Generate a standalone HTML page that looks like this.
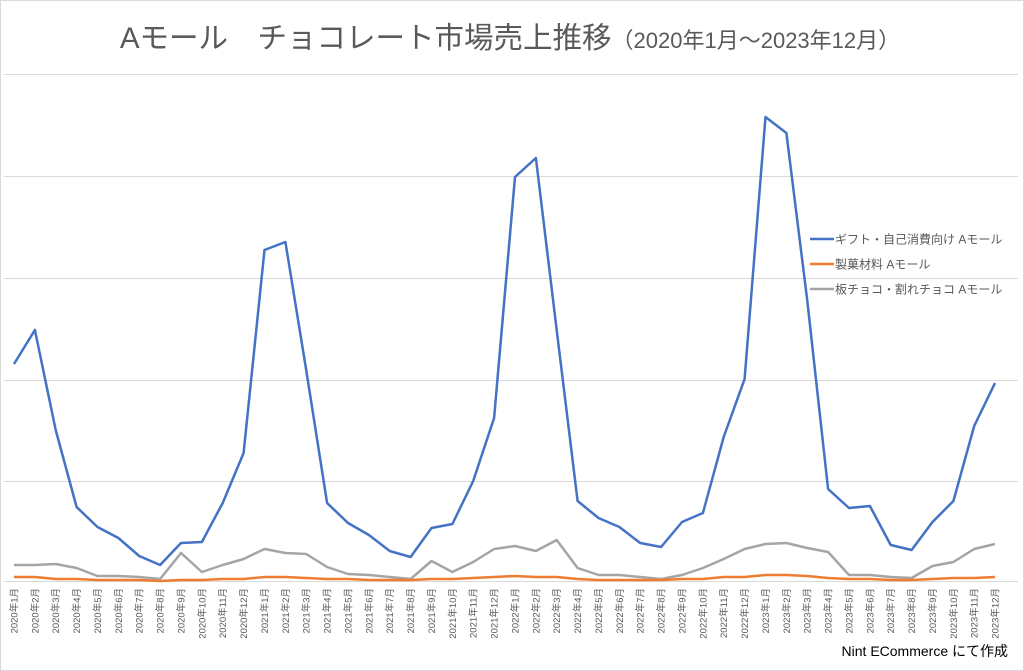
<!DOCTYPE html>
<html><head><meta charset="utf-8"><style>
body{margin:0;background:#fff;}
svg{display:block;font-family:"Liberation Sans","Noto Sans CJK JP",sans-serif;}
</style></head><body>
<svg width="1024" height="671" viewBox="0 0 1024 671">
<rect x="0.5" y="0.5" width="1023" height="670" fill="#fff" stroke="#d9d9d9"/>
<text x="510" y="48" text-anchor="middle" font-size="29.5" fill="#595959">Aモール　チョコレート市場売上推移<tspan font-size="22">（2020年1月～2023年12月）</tspan></text>
<g stroke="#d9d9d9" stroke-width="1">
<line x1="4" x2="1018" y1="74.5" y2="74.5"/><line x1="4" x2="1018" y1="176.5" y2="176.5"/>
<line x1="4" x2="1018" y1="278.5" y2="278.5"/><line x1="4" x2="1018" y1="380.5" y2="380.5"/>
<line x1="4" x2="1018" y1="481.5" y2="481.5"/><line x1="4" x2="1018" y1="581.5" y2="581.5"/>
</g>
<polyline fill="none" stroke="#a5a5a5" stroke-width="2.5" stroke-linejoin="round" points="14,565 34.9,565 55.7,564 76.6,568 97.5,576 118.4,576 139.2,577 160.1,579 181,553 201.9,572 222.7,565 243.6,559 264.5,549 285.4,553 306.2,554 327.1,567 348,574 368.9,575 389.7,577 410.6,579 431.5,561 452.4,572 473.2,562 494.1,549 515,546 535.9,551 556.7,540 577.6,568 598.5,575 619.4,575 640.2,577 661.1,579 682,575 702.9,568 723.7,559 744.6,549 765.5,544 786.4,543 807.2,548 828.1,552 849,575 869.9,575 890.7,577 911.6,578 932.5,566 953.4,562 974.2,549 995,544"/>
<polyline fill="none" stroke="#ed7d31" stroke-width="2.5" stroke-linejoin="round" points="14,577 34.9,577 55.7,579 76.6,579 97.5,580 118.4,580 139.2,580 160.1,581 181,580 201.9,580 222.7,579 243.6,579 264.5,577 285.4,577 306.2,578 327.1,579 348,579 368.9,580 389.7,580 410.6,580 431.5,579 452.4,579 473.2,578 494.1,577 515,576 535.9,577 556.7,577 577.6,579 598.5,580 619.4,580 640.2,580 661.1,580 682,579 702.9,579 723.7,577 744.6,577 765.5,575 786.4,575 807.2,576 828.1,578 849,579 869.9,579 890.7,580 911.6,580 932.5,579 953.4,578 974.2,578 995,577"/>
<polyline fill="none" stroke="#4472c4" stroke-width="2.5" stroke-linejoin="round" points="14,364 34.9,330 55.7,430 76.6,507 97.5,527 118.4,538 139.2,556 160.1,565 181,543 201.9,542 222.7,503 243.6,453 264.5,250 285.4,242 306.2,370 327.1,503 348,523 368.9,535 389.7,551 410.6,557 431.5,528 452.4,524 473.2,481 494.1,418 515,177 535.9,158 556.7,330 577.6,501 598.5,518 619.4,527 640.2,543 661.1,547 682,522 702.9,513 723.7,437 744.6,379 765.5,117 786.4,133 807.2,300 828.1,489 849,508 869.9,506 890.7,545 911.6,550 932.5,522 953.4,501 974.2,426 995,383"/>
<g font-size="12" fill="#595959">
<line x1="810" x2="834" y1="239" y2="239" stroke="#4472c4" stroke-width="2.5"/><text x="835" y="243.5">ギフト・自己消費向け Aモール</text>
<line x1="810" x2="834" y1="264" y2="264" stroke="#ed7d31" stroke-width="2.5"/><text x="835" y="268.5">製菓材料 Aモール</text>
<line x1="810" x2="834" y1="289" y2="289" stroke="#a5a5a5" stroke-width="2.5"/><text x="835" y="293.5">板チョコ・割れチョコ Aモール</text>
</g>
<g font-size="9.5" fill="#595959" text-anchor="end">
<text transform="translate(17.5,588) rotate(-90)">2020年1月</text>
<text transform="translate(38.4,588) rotate(-90)">2020年2月</text>
<text transform="translate(59.2,588) rotate(-90)">2020年3月</text>
<text transform="translate(80.1,588) rotate(-90)">2020年4月</text>
<text transform="translate(101,588) rotate(-90)">2020年5月</text>
<text transform="translate(121.9,588) rotate(-90)">2020年6月</text>
<text transform="translate(142.7,588) rotate(-90)">2020年7月</text>
<text transform="translate(163.6,588) rotate(-90)">2020年8月</text>
<text transform="translate(184.5,588) rotate(-90)">2020年9月</text>
<text transform="translate(205.4,588) rotate(-90)">2020年10月</text>
<text transform="translate(226.2,588) rotate(-90)">2020年11月</text>
<text transform="translate(247.1,588) rotate(-90)">2020年12月</text>
<text transform="translate(268,588) rotate(-90)">2021年1月</text>
<text transform="translate(288.9,588) rotate(-90)">2021年2月</text>
<text transform="translate(309.7,588) rotate(-90)">2021年3月</text>
<text transform="translate(330.6,588) rotate(-90)">2021年4月</text>
<text transform="translate(351.5,588) rotate(-90)">2021年5月</text>
<text transform="translate(372.4,588) rotate(-90)">2021年6月</text>
<text transform="translate(393.2,588) rotate(-90)">2021年7月</text>
<text transform="translate(414.1,588) rotate(-90)">2021年8月</text>
<text transform="translate(435,588) rotate(-90)">2021年9月</text>
<text transform="translate(455.9,588) rotate(-90)">2021年10月</text>
<text transform="translate(476.7,588) rotate(-90)">2021年11月</text>
<text transform="translate(497.6,588) rotate(-90)">2021年12月</text>
<text transform="translate(518.5,588) rotate(-90)">2022年1月</text>
<text transform="translate(539.4,588) rotate(-90)">2022年2月</text>
<text transform="translate(560.2,588) rotate(-90)">2022年3月</text>
<text transform="translate(581.1,588) rotate(-90)">2022年4月</text>
<text transform="translate(602,588) rotate(-90)">2022年5月</text>
<text transform="translate(622.9,588) rotate(-90)">2022年6月</text>
<text transform="translate(643.7,588) rotate(-90)">2022年7月</text>
<text transform="translate(664.6,588) rotate(-90)">2022年8月</text>
<text transform="translate(685.5,588) rotate(-90)">2022年9月</text>
<text transform="translate(706.4,588) rotate(-90)">2022年10月</text>
<text transform="translate(727.2,588) rotate(-90)">2022年11月</text>
<text transform="translate(748.1,588) rotate(-90)">2022年12月</text>
<text transform="translate(769,588) rotate(-90)">2023年1月</text>
<text transform="translate(789.9,588) rotate(-90)">2023年2月</text>
<text transform="translate(810.7,588) rotate(-90)">2023年3月</text>
<text transform="translate(831.6,588) rotate(-90)">2023年4月</text>
<text transform="translate(852.5,588) rotate(-90)">2023年5月</text>
<text transform="translate(873.4,588) rotate(-90)">2023年6月</text>
<text transform="translate(894.2,588) rotate(-90)">2023年7月</text>
<text transform="translate(915.1,588) rotate(-90)">2023年8月</text>
<text transform="translate(936,588) rotate(-90)">2023年9月</text>
<text transform="translate(956.9,588) rotate(-90)">2023年10月</text>
<text transform="translate(977.7,588) rotate(-90)">2023年11月</text>
<text transform="translate(998.5,588) rotate(-90)">2023年12月</text>
</g>
<text x="1008" y="656" text-anchor="end" font-size="14" fill="#000">Nint ECommerce にて作成</text>
</svg>
</body></html>
